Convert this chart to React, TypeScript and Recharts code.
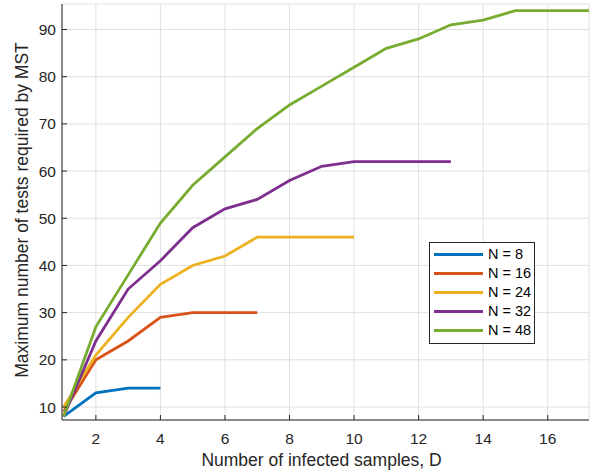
import React from 'react';
import { LineChart, Line, XAxis, YAxis, CartesianGrid, Legend } from 'recharts';

const seriesNames = ['N = 8', 'N = 16', 'N = 24', 'N = 32', 'N = 48'];
const seriesColors = ['#0072BD', '#D95319', '#EDB120', '#7E2F8E', '#77AC30'];

const dN8 = [1, 2, 3, 4];
const testsN8 = [8, 13, 14, 14];
const dN16 = [1, 2, 3, 4, 5, 6, 7];
const testsN16 = [9, 20, 24, 29, 30, 30, 30];
const dN24 = [1, 2, 3, 4, 5, 6, 7, 8, 9, 10];
const testsN24 = [10, 21, 29, 36, 40, 42, 46, 46, 46, 46];
const dN32 = [1, 2, 3, 4, 5, 6, 7, 8, 9, 10, 11, 12, 13];
const testsN32 = [8, 24, 35, 41, 48, 52, 54, 58, 61, 62, 62, 62, 62];
const dN48 = [1, 2, 3, 4, 5, 6, 7, 8, 9, 10, 11, 12, 13, 14, 15, 16, 17, 18];
const testsN48 = [8, 27, 38, 49, 57, 63, 69, 74, 78, 82, 86, 88, 91, 92, 94, 94, 94, 94];

const xTicks = [2, 4, 6, 8, 10, 12, 14, 16];
const yTicks = [10, 20, 30, 40, 50, 60, 70, 80, 90];

const xLabel = 'Number of infected samples, D';
const yLabel = 'Maximum number of tests required by MST';

const toPoints = (ds: number[], vs: number[]) => ds.map((d, i) => ({ d, v: vs[i] }));
const seriesData = [
  toPoints(dN8, testsN8),
  toPoints(dN16, testsN16),
  toPoints(dN24, testsN24),
  toPoints(dN32, testsN32),
  toPoints(dN48, testsN48),
];

const FONT = '"Liberation Sans", Arial, Helvetica, sans-serif';
const TEXT = '#262626';
const AXIS = '#262626';

const emptyTick = () => <g />;

const LegendBox = () => (
  <div
    style={{
      width: 104,
      height: 98,
      border: `1px solid ${AXIS}`,
      background: '#fff',
      paddingTop: 2,
      boxSizing: 'content-box',
      fontFamily: FONT,
      fontSize: 14.5,
      color: '#000',
    }}
  >
    {seriesNames.map((name, i) => (
      <div key={name} style={{ height: 19, display: 'flex', alignItems: 'center' }}>
        <svg width={58} height={19} style={{ display: 'block' }}>
          <line x1={4} x2={53} y1={9.5} y2={9.5} stroke={seriesColors[i]} strokeWidth={2.8} />
        </svg>
        <span style={{ lineHeight: '19px', whiteSpace: 'nowrap' }}>{name}</span>
      </div>
    ))}
  </div>
);

export default function App() {
  return (
    <div style={{ position: 'absolute', left: 0, top: 0, width: 595, height: 476, background: '#fff' }}>
      <LineChart width={595} height={476} margin={{ top: 4, right: 6, bottom: 0, left: 0 }}>
        <CartesianGrid stroke="#e0e0e0" strokeWidth={1} xAxisId="main" yAxisId="main" />
        <XAxis
          xAxisId="main"
          type="number"
          dataKey="d"
          domain={[0.95, 17.28]}
          allowDataOverflow
          ticks={xTicks}
          height={56}
          stroke={AXIS}
          tickSize={-5}
          tickMargin={18}
          tick={{ fill: TEXT, fontSize: 15.5, fontFamily: FONT }}
          label={{
            content: (props: any) => {
              const vb = props.viewBox || {};
              return (
                <text
                  x={vb.x + vb.width / 2 - 4}
                  y={vb.y + 40}
                  textAnchor="middle"
                  dominantBaseline="central"
                  fill={TEXT}
                  fontSize={17.5}
                  fontFamily={FONT}
                >
                  {xLabel}
                </text>
              );
            },
          }}
        />
        <XAxis
          xAxisId="top"
          orientation="top"
          type="number"
          domain={[0.95, 17.28]}
          allowDataOverflow
          ticks={xTicks}
          height={0}
          stroke={AXIS}
          tickSize={-5}
          tick={emptyTick}
        />
        <YAxis
          yAxisId="main"
          type="number"
          domain={[7.25, 95.4]}
          allowDataOverflow
          ticks={yTicks}
          width={62}
          stroke={AXIS}
          tickSize={-5}
          tickMargin={11}
          tick={{ fill: TEXT, fontSize: 15.5, fontFamily: FONT }}
          label={{
            content: (props: any) => {
              const vb = props.viewBox || {};
              const cx = 22;
              const cy = vb.y + vb.height / 2 - 2;
              return (
                <text
                  x={cx}
                  y={cy}
                  transform={`rotate(-90 ${cx} ${cy})`}
                  textAnchor="middle"
                  dominantBaseline="central"
                  fill={TEXT}
                  fontSize={17.5}
                  fontFamily={FONT}
                >
                  {yLabel}
                </text>
              );
            },
          }}
        />
        <YAxis
          yAxisId="right"
          orientation="right"
          type="number"
          domain={[7.25, 95.4]}
          allowDataOverflow
          ticks={yTicks}
          width={0}
          stroke={AXIS}
          tickSize={-5}
          tick={emptyTick}
        />
        {seriesData.map((pts, i) => (
          <Line
            key={seriesNames[i]}
            xAxisId="main"
            yAxisId="main"
            data={pts}
            dataKey="v"
            name={seriesNames[i]}
            stroke={seriesColors[i]}
            strokeWidth={2.8}
            dot={false}
            activeDot={false}
            isAnimationActive={false}
          />
        ))}
        <Legend
          layout="vertical"
          align="center"
          verticalAlign="middle"
          content={() => <LegendBox />}
          wrapperStyle={{ position: 'absolute', left: 429, top: 242, width: 'auto', height: 'auto' }}
        />
      </LineChart>
    </div>
  );
}
